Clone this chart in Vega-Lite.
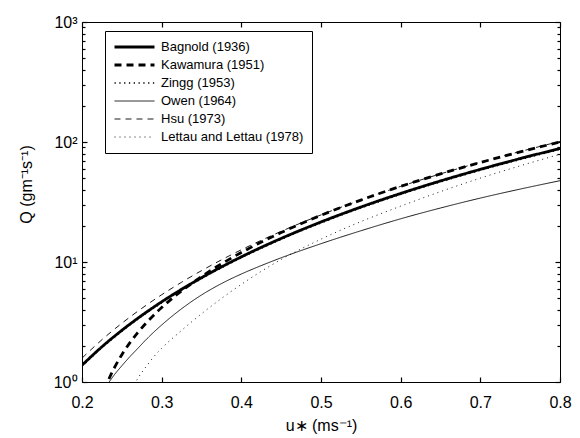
{
  "$schema": "https://vega.github.io/schema/vega-lite/v6.json",
  "width": 478,
  "height": 360,
  "autosize": {"type": "none"},
  "padding": {"left": 82, "top": 22, "right": 20, "bottom": 56},
  "background": "white",
  "config": {
    "view": {"stroke": "black", "strokeWidth": 1},
    "font": "Liberation Sans",
    "axis": {
      "labelFont": "Liberation Sans",
      "labelFontSize": 16,
      "labelColor": "black",
      "titleFont": "Liberation Sans",
      "titleFontSize": 16,
      "titleFontWeight": "normal",
      "titleColor": "black",
      "tickColor": "black",
      "tickWidth": 1.2,
      "domain": false,
      "grid": false
    },
    "legend": {
      "labelFont": "Liberation Sans",
      "labelFontSize": 13,
      "labelColor": "black"
    }
  },
  "data": {
    "values": [
      {"m": "Lettau and Lettau (1978)", "u": 0.26, "q": 0.80},
      {"m": "Lettau and Lettau (1978)", "u": 0.265, "q": 0.93},
      {"m": "Lettau and Lettau (1978)", "u": 0.27, "q": 1.07},
      {"m": "Lettau and Lettau (1978)", "u": 0.28, "q": 1.33},
      {"m": "Lettau and Lettau (1978)", "u": 0.29, "q": 1.62},
      {"m": "Lettau and Lettau (1978)", "u": 0.30, "q": 1.91},
      {"m": "Lettau and Lettau (1978)", "u": 0.32, "q": 2.52},
      {"m": "Lettau and Lettau (1978)", "u": 0.35, "q": 3.70},
      {"m": "Lettau and Lettau (1978)", "u": 0.40, "q": 6.51},
      {"m": "Lettau and Lettau (1978)", "u": 0.45, "q": 10.5},
      {"m": "Lettau and Lettau (1978)", "u": 0.50, "q": 15.5},
      {"m": "Lettau and Lettau (1978)", "u": 0.55, "q": 21.7},
      {"m": "Lettau and Lettau (1978)", "u": 0.60, "q": 29.2},
      {"m": "Lettau and Lettau (1978)", "u": 0.65, "q": 38.6},
      {"m": "Lettau and Lettau (1978)", "u": 0.70, "q": 50.0},
      {"m": "Lettau and Lettau (1978)", "u": 0.75, "q": 63.3},
      {"m": "Lettau and Lettau (1978)", "u": 0.80, "q": 79.0},

      {"m": "Owen (1964)", "u": 0.231, "q": 0.944},
      {"m": "Owen (1964)", "u": 0.234, "q": 1.0},
      {"m": "Owen (1964)", "u": 0.24, "q": 1.135},
      {"m": "Owen (1964)", "u": 0.25, "q": 1.365},
      {"m": "Owen (1964)", "u": 0.26, "q": 1.622},
      {"m": "Owen (1964)", "u": 0.27, "q": 1.905},
      {"m": "Owen (1964)", "u": 0.28, "q": 2.239},
      {"m": "Owen (1964)", "u": 0.29, "q": 2.600},
      {"m": "Owen (1964)", "u": 0.30, "q": 2.985},
      {"m": "Owen (1964)", "u": 0.32, "q": 3.846},
      {"m": "Owen (1964)", "u": 0.35, "q": 5.309},
      {"m": "Owen (1964)", "u": 0.375, "q": 6.607},
      {"m": "Owen (1964)", "u": 0.40, "q": 7.943},
      {"m": "Owen (1964)", "u": 0.425, "q": 9.333},
      {"m": "Owen (1964)", "u": 0.45, "q": 10.84},
      {"m": "Owen (1964)", "u": 0.50, "q": 14.21},
      {"m": "Owen (1964)", "u": 0.55, "q": 18.20},
      {"m": "Owen (1964)", "u": 0.60, "q": 22.91},
      {"m": "Owen (1964)", "u": 0.65, "q": 28.18},
      {"m": "Owen (1964)", "u": 0.70, "q": 34.08},
      {"m": "Owen (1964)", "u": 0.75, "q": 40.51},
      {"m": "Owen (1964)", "u": 0.80, "q": 47.59},

      {"m": "Hsu (1973)", "u": 0.2, "q": 1.580},
      {"m": "Hsu (1973)", "u": 0.225, "q": 2.250},
      {"m": "Hsu (1973)", "u": 0.25, "q": 3.086},
      {"m": "Hsu (1973)", "u": 0.275, "q": 4.107},
      {"m": "Hsu (1973)", "u": 0.3, "q": 5.333},
      {"m": "Hsu (1973)", "u": 0.325, "q": 6.780},
      {"m": "Hsu (1973)", "u": 0.35, "q": 8.468},
      {"m": "Hsu (1973)", "u": 0.375, "q": 10.415},
      {"m": "Hsu (1973)", "u": 0.4, "q": 12.64},
      {"m": "Hsu (1973)", "u": 0.45, "q": 18.00},
      {"m": "Hsu (1973)", "u": 0.5, "q": 24.69},
      {"m": "Hsu (1973)", "u": 0.55, "q": 32.86},
      {"m": "Hsu (1973)", "u": 0.6, "q": 42.66},
      {"m": "Hsu (1973)", "u": 0.65, "q": 54.24},
      {"m": "Hsu (1973)", "u": 0.7, "q": 67.74},
      {"m": "Hsu (1973)", "u": 0.75, "q": 83.32},
      {"m": "Hsu (1973)", "u": 0.8, "q": 101.1},

      {"m": "Zingg (1953)", "u": 0.2, "q": 1.352},
      {"m": "Zingg (1953)", "u": 0.225, "q": 1.926},
      {"m": "Zingg (1953)", "u": 0.25, "q": 2.641},
      {"m": "Zingg (1953)", "u": 0.275, "q": 3.515},
      {"m": "Zingg (1953)", "u": 0.3, "q": 4.565},
      {"m": "Zingg (1953)", "u": 0.325, "q": 5.804},
      {"m": "Zingg (1953)", "u": 0.35, "q": 7.248},
      {"m": "Zingg (1953)", "u": 0.375, "q": 8.915},
      {"m": "Zingg (1953)", "u": 0.4, "q": 10.82},
      {"m": "Zingg (1953)", "u": 0.45, "q": 15.41},
      {"m": "Zingg (1953)", "u": 0.5, "q": 21.13},
      {"m": "Zingg (1953)", "u": 0.55, "q": 28.13},
      {"m": "Zingg (1953)", "u": 0.6, "q": 36.51},
      {"m": "Zingg (1953)", "u": 0.65, "q": 46.42},
      {"m": "Zingg (1953)", "u": 0.7, "q": 57.99},
      {"m": "Zingg (1953)", "u": 0.75, "q": 71.31},
      {"m": "Zingg (1953)", "u": 0.8, "q": 86.55},

      {"m": "Kawamura (1951)", "u": 0.228, "q": 0.855},
      {"m": "Kawamura (1951)", "u": 0.232, "q": 0.995},
      {"m": "Kawamura (1951)", "u": 0.236, "q": 1.14},
      {"m": "Kawamura (1951)", "u": 0.24, "q": 1.29},
      {"m": "Kawamura (1951)", "u": 0.25, "q": 1.69},
      {"m": "Kawamura (1951)", "u": 0.26, "q": 2.12},
      {"m": "Kawamura (1951)", "u": 0.27, "q": 2.58},
      {"m": "Kawamura (1951)", "u": 0.28, "q": 3.07},
      {"m": "Kawamura (1951)", "u": 0.29, "q": 3.60},
      {"m": "Kawamura (1951)", "u": 0.30, "q": 4.17},
      {"m": "Kawamura (1951)", "u": 0.32, "q": 5.41},
      {"m": "Kawamura (1951)", "u": 0.35, "q": 7.56},
      {"m": "Kawamura (1951)", "u": 0.375, "q": 9.65},
      {"m": "Kawamura (1951)", "u": 0.40, "q": 12.0},
      {"m": "Kawamura (1951)", "u": 0.45, "q": 17.6},
      {"m": "Kawamura (1951)", "u": 0.50, "q": 24.5},
      {"m": "Kawamura (1951)", "u": 0.55, "q": 32.8},
      {"m": "Kawamura (1951)", "u": 0.60, "q": 42.7},
      {"m": "Kawamura (1951)", "u": 0.65, "q": 54.2},
      {"m": "Kawamura (1951)", "u": 0.70, "q": 67.5},
      {"m": "Kawamura (1951)", "u": 0.75, "q": 82.7},
      {"m": "Kawamura (1951)", "u": 0.80, "q": 100.0},

      {"m": "Bagnold (1936)", "u": 0.2, "q": 1.380},
      {"m": "Bagnold (1936)", "u": 0.225, "q": 1.965},
      {"m": "Bagnold (1936)", "u": 0.25, "q": 2.695},
      {"m": "Bagnold (1936)", "u": 0.275, "q": 3.587},
      {"m": "Bagnold (1936)", "u": 0.3, "q": 4.658},
      {"m": "Bagnold (1936)", "u": 0.325, "q": 5.922},
      {"m": "Bagnold (1936)", "u": 0.35, "q": 7.396},
      {"m": "Bagnold (1936)", "u": 0.375, "q": 9.097},
      {"m": "Bagnold (1936)", "u": 0.4, "q": 11.04},
      {"m": "Bagnold (1936)", "u": 0.45, "q": 15.72},
      {"m": "Bagnold (1936)", "u": 0.5, "q": 21.56},
      {"m": "Bagnold (1936)", "u": 0.55, "q": 28.70},
      {"m": "Bagnold (1936)", "u": 0.6, "q": 37.26},
      {"m": "Bagnold (1936)", "u": 0.65, "q": 47.37},
      {"m": "Bagnold (1936)", "u": 0.7, "q": 59.17},
      {"m": "Bagnold (1936)", "u": 0.75, "q": 72.77},
      {"m": "Bagnold (1936)", "u": 0.8, "q": 88.32}
    ]
  },
  "layer": [
    {
      "mark": {"type": "line", "clip": true, "interpolate": "monotone", "color": "black"},
      "encoding": {
        "x": {
          "field": "u", "type": "quantitative",
          "scale": {"domain": [0.2, 0.8], "nice": false, "zero": false},
          "axis": {
            "orient": "bottom",
            "offset": -5,
            "values": [0.2, 0.3, 0.4, 0.5, 0.6, 0.7, 0.8],
            "format": ".1f",
            "tickSize": 5,
            "labelPadding": 12,
            "labelFlush": false,
            "title": "u∗ (ms⁻¹)",
            "titleX": 239,
            "titleY": 40,
            "titleBaseline": "top"
          }
        },
        "y": {
          "field": "q", "type": "quantitative",
          "scale": {"type": "log", "domain": [1, 1000], "nice": false},
          "axis": {
            "orient": "left",
            "offset": -5,
            "values": [1, 10, 100, 1000],
            "labelExpr": "datum.value == 1 ? '10⁰' : datum.value == 10 ? '10¹' : datum.value == 100 ? '10²' : '10³'",
            "tickSize": 5,
            "labelPadding": 5,
            "labelFlush": false,
            "labelOverlap": false,
            "title": "Q (gm⁻¹s⁻¹)",
            "titleX": -61,
            "titleY": 162,
            "titleAngle": -90,
            "titleBaseline": "middle",
            "titleAlign": "center"
          }
        },
        "strokeDash": {
          "field": "m", "type": "nominal",
          "scale": {
            "domain": ["Bagnold (1936)", "Kawamura (1951)", "Zingg (1953)", "Owen (1964)", "Hsu (1973)", "Lettau and Lettau (1978)"],
            "range": [[1, 0], [7, 5], [1.3, 3.5], [1, 0], [6, 5], [1, 4]]
          },
          "legend": {
            "title": null,
            "orient": "none",
            "legendX": 23,
            "legendY": 9,
            "strokeColor": "black",
            "fillColor": "white",
            "padding": 8,
            "symbolType": "stroke",
            "symbolSize": 1600,
            "symbolStrokeColor": "black",
            "labelOffset": 5,
            "clipHeight": 16,
            "rowPadding": 2,
            "labelLimit": 300
          }
        },
        "strokeWidth": {
          "field": "m", "type": "nominal",
          "scale": {
            "type": "ordinal",
            "domain": ["Bagnold (1936)", "Kawamura (1951)", "Zingg (1953)", "Owen (1964)", "Hsu (1973)", "Lettau and Lettau (1978)"],
            "range": [2.8, 2.8, 1.3, 0.9, 0.9, 0.9]
          },
          "legend": {
            "title": null,
            "orient": "none",
            "legendX": 23,
            "legendY": 9,
            "strokeColor": "black",
            "fillColor": "white",
            "padding": 8,
            "symbolType": "stroke",
            "symbolSize": 1600,
            "symbolStrokeColor": "black",
            "labelOffset": 5,
            "clipHeight": 16,
            "rowPadding": 2,
            "labelLimit": 300
          }
        }
      }
    },
    {
      "mark": {"type": "point", "opacity": 0},
      "encoding": {
        "x": {
          "field": "u", "type": "quantitative",
          "axis": {"orient": "top", "offset": -5, "values": [0.2, 0.3, 0.4, 0.5, 0.6, 0.7, 0.8], "tickSize": 5, "labels": false, "title": null}
        },
        "y": {
          "field": "q", "type": "quantitative",
          "axis": {"orient": "right", "offset": -5, "values": [1, 10, 100, 1000], "tickSize": 5, "labels": false, "title": null}
        }
      }
    },
    {
      "mark": {"type": "point", "opacity": 0},
      "encoding": {
        "x": {"field": "u", "type": "quantitative", "axis": null},
        "y": {
          "field": "q", "type": "quantitative",
          "axis": {"orient": "left", "offset": -3, "values": [2,3,4,5,6,7,8,9,20,30,40,50,60,70,80,90,200,300,400,500,600,700,800,900], "tickSize": 3, "labels": false, "title": null}
        }
      }
    },
    {
      "mark": {"type": "point", "opacity": 0},
      "encoding": {
        "x": {"field": "u", "type": "quantitative", "axis": null},
        "y": {
          "field": "q", "type": "quantitative",
          "axis": {"orient": "right", "offset": -3, "values": [2,3,4,5,6,7,8,9,20,30,40,50,60,70,80,90,200,300,400,500,600,700,800,900], "tickSize": 3, "labels": false, "title": null}
        }
      }
    }
  ],
  "resolve": {"axis": {"x": "independent", "y": "independent"}}
}
